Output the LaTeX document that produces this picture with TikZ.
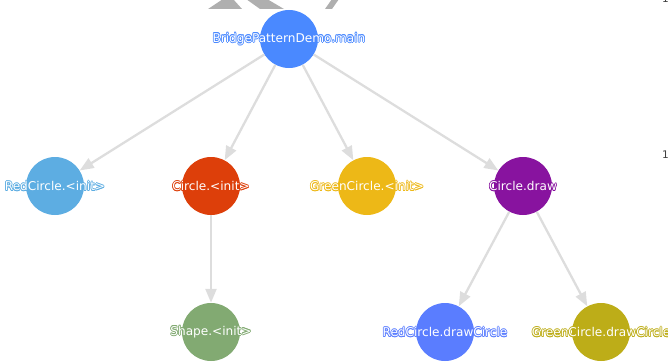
\documentclass[tikz,border=0pt]{standalone}
\usepackage{fontspec}
\setmainfont{DejaVu Sans}
\usetikzlibrary{arrows.meta}
\definecolor{cmain}{HTML}{4A89FF}
\definecolor{crci}{HTML}{5DADE2}
\definecolor{cci}{HTML}{DD3F0A}
\definecolor{cgci}{HTML}{EDB817}
\definecolor{ccd}{HTML}{88139F}
\definecolor{csi}{HTML}{82AA72}
\definecolor{crdc}{HTML}{5A7DFF}
\definecolor{cgdc}{HTML}{BDAD18}
\definecolor{edgegray}{HTML}{DDDDDD}
\definecolor{loopgray}{HTML}{AFAFAF}
\newcommand\halotxt[2]{%
  \leavevmode
  \rlap{\hspace*{-0.7pt}\textcolor{#1}{#2}}%
  \rlap{\hspace*{0.7pt}\textcolor{#1}{#2}}%
  \rlap{\raisebox{0.7pt}{\textcolor{#1}{#2}}}%
  \rlap{\raisebox{-0.7pt}{\textcolor{#1}{#2}}}%
  \rlap{\hspace*{-0.5pt}\raisebox{0.5pt}{\textcolor{#1}{#2}}}%
  \rlap{\hspace*{0.5pt}\raisebox{0.5pt}{\textcolor{#1}{#2}}}%
  \rlap{\hspace*{-0.5pt}\raisebox{-0.5pt}{\textcolor{#1}{#2}}}%
  \rlap{\hspace*{0.5pt}\raisebox{-0.5pt}{\textcolor{#1}{#2}}}%
  \textcolor{white}{#2}}
\tikzset{
  callnode/.style={circle, minimum size=58pt, inner sep=0pt, draw=none, fill=#1},
  calllabel/.style={inner sep=0pt, font=\fontsize{12.1}{14}\selectfont},
  edge/.style={draw=edgegray, line width=2.3pt, -{Triangle[length=14pt,width=11pt]}},
  countlabel/.style={inner sep=0pt, text=black!75, font=\fontsize{10.5}{12}\selectfont},
}
\newcommand\callnode[4]{% name, position, color, text
  \node[callnode=#3] (#1) at #2 {};
  \node[calllabel] (#1-text) at (#1.center) {\halotxt{#3}{#4}};}
\begin{document}
\begin{tikzpicture}[x=1pt,y=-1pt]
\useasboundingbox (0,0) rectangle (668,361);
% partially visible self loop above the top node
\fill[loopgray] (208,9) -- (223,-1) -- (233,-1) -- (242,9) -- cycle;
\fill[loopgray] (246,-1) -- (267,-1) -- (284,9) -- (260,9) -- cycle;
\fill[loopgray] (332,-1) -- (339,-1) -- (332,9) -- (325,9) -- cycle;
% nodes
\callnode{main}{(289,39)}{cmain}{BridgePatternDemo.main}
\callnode{rci}{(55,186)}{crci}{RedCircle.<init>}
\callnode{ci}{(211,186)}{cci}{Circle.<init>}
\callnode{gci}{(367,186)}{cgci}{GreenCircle.<init>}
\callnode{cd}{(523,186)}{ccd}{Circle.draw}
\callnode{si}{(211,332)}{csi}{Shape.<init>}
\callnode{rdc}{(445,332)}{crdc}{RedCircle.drawCircle}
\callnode{gdc}{(601,332)}{cgdc}{GreenCircle.drawCircle}
% edges
\draw[edge] (main) -- (rci);
\draw[edge] (main) -- (ci);
\draw[edge] (main) -- (gci);
\draw[edge] (main) -- (cd);
\draw[edge] (ci) -- (si);
\draw[edge] (cd) -- (rdc);
\draw[edge] (cd) -- (gdc);
% counts at right edge
\node[countlabel] (cnt1) at (665.5,-1.5) {1};
\node[countlabel] (cnt2) at (665.5,154.5) {1};
\end{tikzpicture}
\end{document}
